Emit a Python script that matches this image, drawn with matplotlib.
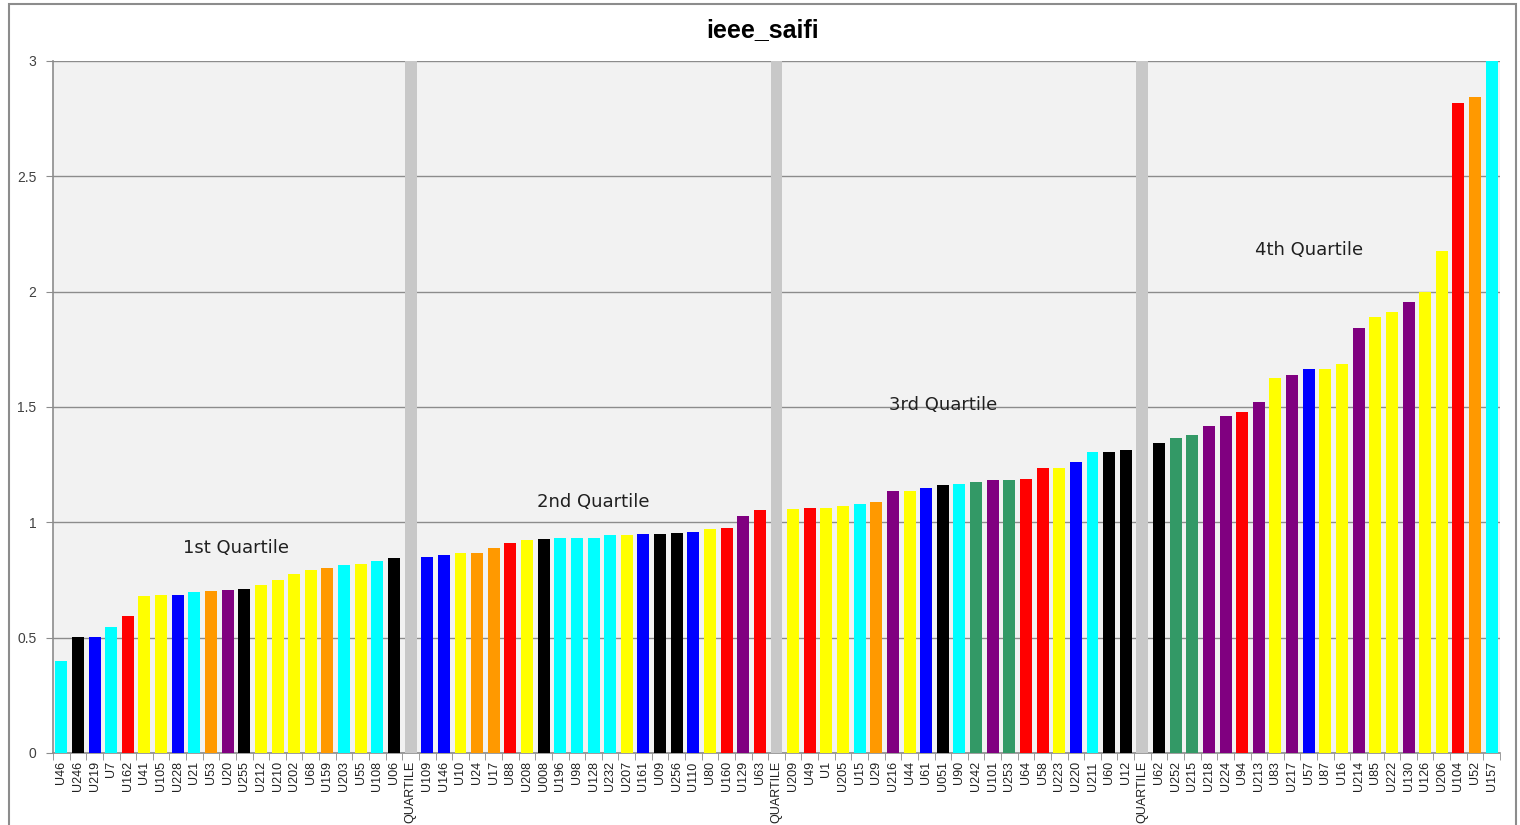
import matplotlib
matplotlib.use('Agg')
import matplotlib.pyplot as plt
from matplotlib.patches import Rectangle
from matplotlib.ticker import FixedLocator, FuncFormatter

plt.rcParams['font.family'] = ['Liberation Sans', 'DejaVu Sans']

# ─── Data ─────────────────────────────────────────────────────────────────────

labels = [
    'U46', 'U246', 'U219', 'U7', 'U162', 'U41', 'U105', 'U228', 'U21', 'U53', 'U20',
    'U255', 'U212', 'U210', 'U202', 'U68', 'U159', 'U203', 'U55', 'U108', 'U06',
    'QUARTILE',
    'U109', 'U146', 'U10', 'U24', 'U17', 'U88', 'U208', 'U008', 'U196', 'U98', 'U128',
    'U232', 'U207', 'U161', 'U09', 'U256', 'U110', 'U80', 'U160', 'U129', 'U63',
    'QUARTILE',
    'U209', 'U49', 'U1', 'U205', 'U15', 'U29', 'U216', 'U44', 'U61', 'U051', 'U90',
    'U242', 'U101', 'U253', 'U64', 'U58', 'U223', 'U220', 'U211', 'U60', 'U12',
    'QUARTILE',
    'U62', 'U252', 'U215', 'U218', 'U224', 'U94', 'U213', 'U83', 'U217', 'U57', 'U87',
    'U16', 'U214', 'U85', 'U222', 'U130', 'U126', 'U206', 'U104', 'U52', 'U157',
]

values = [
    0.401, 0.502, 0.502, 0.546, 0.592, 0.682, 0.686, 0.687, 0.696, 0.702, 0.708,
    0.713, 0.729, 0.748, 0.774, 0.792, 0.803, 0.815, 0.821, 0.832, 0.844,
    3.0,
    0.850, 0.858, 0.867, 0.867, 0.887, 0.911, 0.922, 0.928, 0.934, 0.934, 0.934,
    0.945, 0.945, 0.948, 0.951, 0.954, 0.960, 0.971, 0.977, 1.026, 1.052,
    3.0,
    1.057, 1.060, 1.063, 1.072, 1.081, 1.090, 1.136, 1.137, 1.147, 1.162, 1.165,
    1.177, 1.182, 1.185, 1.190, 1.234, 1.237, 1.263, 1.304, 1.307, 1.315,
    3.0,
    1.343, 1.367, 1.380, 1.419, 1.460, 1.479, 1.521, 1.625, 1.640, 1.664, 1.666,
    1.686, 1.842, 1.890, 1.910, 1.957, 1.999, 2.177, 2.820, 2.842, 3.0,
]

groups = [
    'cyan', 'black', 'blue', 'cyan', 'red', 'yellow', 'yellow', 'blue', 'cyan', 'orange', 'purple',
    'black', 'yellow', 'yellow', 'yellow', 'yellow', 'orange', 'cyan', 'yellow', 'cyan', 'black',
    'sep',
    'blue', 'blue', 'yellow', 'orange', 'orange', 'red', 'yellow', 'black', 'cyan', 'cyan', 'cyan',
    'cyan', 'yellow', 'blue', 'black', 'black', 'blue', 'yellow', 'red', 'purple', 'red',
    'sep',
    'yellow', 'red', 'yellow', 'yellow', 'cyan', 'orange', 'purple', 'yellow', 'blue', 'black', 'cyan',
    'green', 'purple', 'green', 'red', 'red', 'yellow', 'blue', 'cyan', 'black', 'black',
    'sep',
    'black', 'green', 'green', 'purple', 'purple', 'red', 'purple', 'yellow', 'purple', 'blue', 'yellow',
    'yellow', 'purple', 'yellow', 'yellow', 'purple', 'yellow', 'yellow', 'red', 'orange', 'cyan',
]

quartile_names = ['1st Quartile', '2nd Quartile', '3rd Quartile', '4th Quartile']
quartile_label_x = [10.5, 32, 53, 75]
quartile_label_y = [0.89, 1.09, 1.51, 2.18]

PALETTE = {
    'cyan': '#00FFFF', 'black': '#000000', 'blue': '#0000FF', 'red': '#FF0000',
    'yellow': '#FFFF00', 'orange': '#FF9900', 'purple': '#800080',
    'green': '#339966', 'sep': '#C8C8C8',
}

# ─── Figure ───────────────────────────────────────────────────────────────────

fig = plt.figure(figsize=(15.2, 8.25), dpi=100)
fig.patch.set_facecolor('white')
ax = fig.add_axes([53/1520, 72/825, 1447/1520, 692/825])
ax.set_facecolor('#F2F2F2')

x = list(range(len(labels)))
ax.bar(x, values, width=0.72, color=[PALETTE[g] for g in groups],
       edgecolor='none', zorder=3)

ax.set_xlim(-0.5, len(labels) - 0.5)
ax.set_ylim(0, 3)
ax.set_yticks([0, 0.5, 1, 1.5, 2, 2.5, 3])
ax.yaxis.set_major_formatter(FuncFormatter(lambda v, p: f'{v:g}'))
ax.grid(axis='y', color='#8C8C8C', lw=1.0, zorder=1)
ax.tick_params(axis='y', length=5, color='#8C8C8C', labelsize=10,
               labelcolor='#404040', pad=7)

ax.set_xticks(x)
ax.set_xticklabels(labels, rotation=90, fontsize=9, color='#202020')
ax.tick_params(axis='x', which='major', length=0, pad=6)
ax.xaxis.set_minor_locator(FixedLocator([i - 0.5 for i in range(len(labels) + 1)]))
ax.tick_params(axis='x', which='minor', length=5, color='#8C8C8C')

for s in ['top', 'right']:
    ax.spines[s].set_visible(False)
for s in ['left', 'bottom']:
    ax.spines[s].set_color('#8C8C8C')
    ax.spines[s].set_linewidth(1.2)

for name, qx, qy in zip(quartile_names, quartile_label_x, quartile_label_y):
    ax.text(qx, qy, name, fontsize=13, color='#202020', ha='center',
            va='center', family=['DejaVu Sans'], zorder=4)

fig.text(763/1520, 1 - 30/825, 'ieee_saifi', fontsize=18, fontweight='bold',
         ha='center', va='center', color='#000000')

fig.patches.append(Rectangle((9/1520, -0.02), 1507/1520, 1 - 4/825 + 0.02,
                             transform=fig.transFigure, fill=False,
                             edgecolor='#8C8C8C', lw=1.5))

plt.savefig('out.png', dpi=100, facecolor='white')
plt.close()
